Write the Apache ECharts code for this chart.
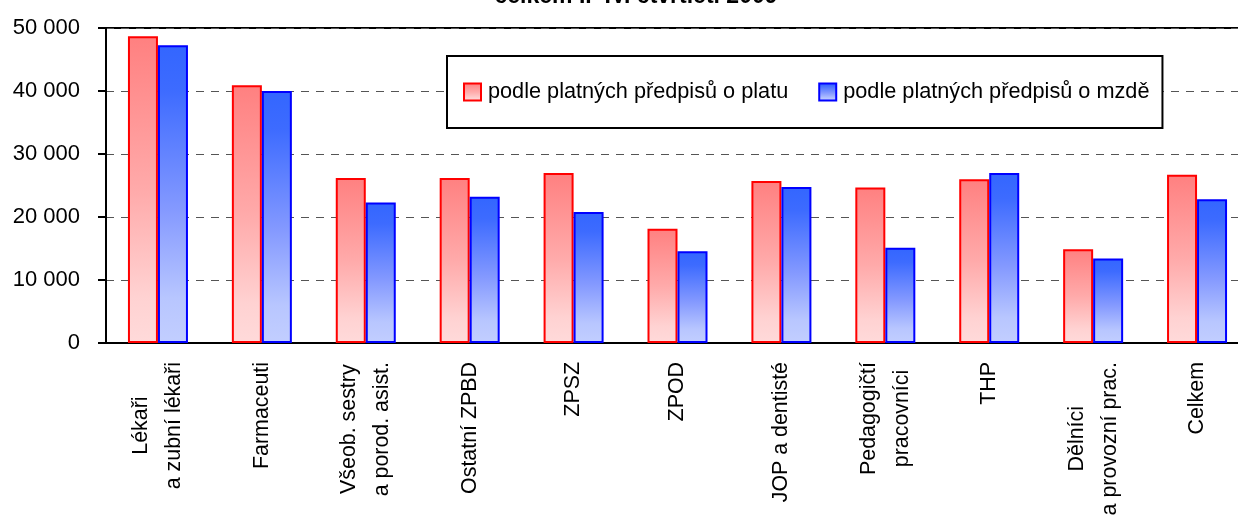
<!DOCTYPE html>
<html>
<head>
<meta charset="utf-8">
<script src="https://cdn.jsdelivr.net/npm/echarts@6/dist/echarts.min.js"></script>
<style>html,body{margin:0;padding:0;background:#fff}#c{width:1238px;height:518px}</style>
</head>
<body>
<div id="c"></div>
<script>
const titleText = 'celkem I.–IV. čtvrtletí 2009';
const categories = ['Lékaři\na zubní lékaři', 'Farmaceuti', 'Všeob. sestry\na porod. asist.', 'Ostatní ZPBD', 'ZPSZ', 'ZPOD', 'JOP a dentisté', 'Pedagogičtí\npracovníci', 'THP', 'Dělníci\na provozní prac.', 'Celkem'];
const seriesNames = ['podle platných předpisů o platu', 'podle platných předpisů o mzdě'];
const platValues = [48700, 40900, 26200, 26200, 27000, 18150, 25700, 24700, 26000, 14900, 26700];
const mzdaValues = [47250, 40000, 22300, 23200, 20800, 14550, 24750, 15100, 27000, 13400, 22800];
const yTicks = [0, 10000, 20000, 30000, 40000, 50000];

const FONT = '"Liberation Sans", Arial, sans-serif';
const fmt = v => String(v).replace(/\B(?=(\d{3})+(?!\d))/g, ' ');
const grad = (stops) => new echarts.graphic.LinearGradient(0, 0, 0, 1, stops.map(c => ({offset: c[0], color: c[1]})));

const chart = echarts.init(document.getElementById('c'), null, {renderer: 'canvas'});
chart.setOption({
  animation: false,
  backgroundColor: '#fff',
  title: {
    text: titleText, left: 631, textAlign: 'center', top: -20,
    textStyle: {fontFamily: FONT, fontWeight: 'bold', fontSize: 23, color: '#000'}
  },
  grid: {left: 106, top: 28, right: -11, bottom: 175, outerBoundsMode: 'none', containLabel: false,
         show: true, borderColor: '#000', borderWidth: 2, backgroundColor: 'transparent'},
  legend: {
    left: 447, top: 56,
    padding: [25, 13, 25, 16],
    itemWidth: 17, itemHeight: 17, itemGap: 30,
    backgroundColor: '#fff', borderColor: '#000', borderWidth: 2,
    icon: 'rect',
    textStyle: {fontFamily: FONT, fontSize: 21.7, color: '#000', padding: [0, 0, 0, 2]},
    data: seriesNames
  },
  xAxis: {
    type: 'category', data: categories,
    axisLine: {lineStyle: {color: '#000', width: 2}},
    axisTick: {length: 8, lineStyle: {color: '#000', width: 2}},
    axisLabel: {
      interval: 0, rotate: 90, margin: 19,
      formatter: v => v.split('\n').map(l => '{c|' + l + '}').join('\n'),
      rich: {c: {align: 'center', fontFamily: FONT, fontSize: 21.4, lineHeight: 33, color: '#000'}}
    }
  },
  yAxis: {
    type: 'value', min: yTicks[0], max: yTicks[yTicks.length - 1], interval: yTicks[1] - yTicks[0],
    axisLine: {show: true, lineStyle: {color: '#000', width: 2}},
    axisTick: {show: true, length: 8, lineStyle: {color: '#000', width: 2}},
    axisLabel: {margin: 26, formatter: fmt, fontFamily: FONT, fontSize: 22, color: '#000'},
    splitLine: {lineStyle: {color: '#555', width: 1, type: [8, 7]}}
  },
  series: [
    {
      name: seriesNames[0], type: 'bar', data: platValues, barWidth: 30, barGap: '0%',
      itemStyle: {borderColor: '#ff0000', borderWidth: 2, color: grad([[0, '#ff8080'], [0.5, '#ffaaaa'], [0.85, '#ffd2d2'], [1, '#ffdada']])}
    },
    {
      name: seriesNames[1], type: 'bar', data: mzdaValues, barWidth: 30, barGap: '0%',
      itemStyle: {borderColor: '#0000ff', borderWidth: 2, color: grad([[0, '#3366ff'], [0.15, '#3d6bff'], [0.55, '#8499ff'], [0.85, '#b8c6ff'], [1, '#c2ceff']])}
    }
  ]
});
</script>
</body>
</html>
